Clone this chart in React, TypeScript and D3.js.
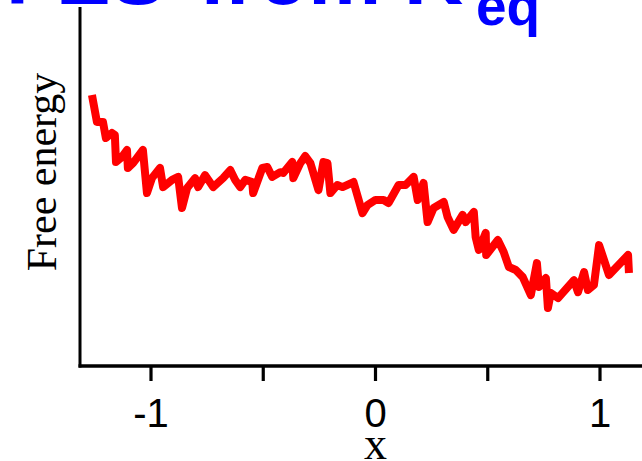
import React from "react";
import * as d3 from "d3";

const xs = [
  -1.263, -1.241, -1.214, -1.201, -1.174, -1.161, -1.156, -1.129, -1.107, -1.103,
  -1.08, -1.036, -1.018, -0.996, -0.96, -0.946, -0.906, -0.879, -0.862, -0.839,
  -0.804, -0.79, -0.759, -0.723, -0.679, -0.647, -0.625, -0.603, -0.58, -0.549,
  -0.545, -0.504, -0.482, -0.46, -0.424, -0.411, -0.371, -0.366, -0.335, -0.313,
  -0.29, -0.254, -0.232, -0.214, -0.201, -0.17, -0.147, -0.098, -0.058, -0.036,
  0.0, 0.036, 0.058, 0.103, 0.134, 0.17, 0.188, 0.214, 0.232, 0.259,
  0.304, 0.321, 0.348, 0.388, 0.402, 0.438, 0.446, 0.46, 0.491, 0.493,
  0.545, 0.571, 0.594, 0.625, 0.656, 0.692, 0.719, 0.728, 0.759, 0.768,
  0.781, 0.813, 0.884, 0.902, 0.929, 0.946, 0.973, 0.996, 1.04, 1.125, 1.129,
];
const energies = [
  9.06, 8.16, 8.16, 7.62, 7.79, 7.72, 6.82, 6.99, 7.22, 6.62,
  6.78, 7.22, 5.78, 6.28, 6.62, 5.98, 6.22, 6.32, 5.28, 5.95,
  6.28, 5.98, 6.38, 5.98, 6.28, 6.55, 6.22, 5.98, 6.22, 6.15,
  5.78, 6.62, 6.65, 6.32, 6.48, 6.45, 6.82, 6.28, 6.78, 7.02,
  6.78, 5.88, 6.82, 6.78, 5.78, 6.05, 5.98, 6.15, 5.11, 5.38,
  5.55, 5.55, 5.45, 6.05, 6.05, 6.32, 5.55, 6.12, 4.81, 5.28,
  5.48, 4.98, 4.55, 5.05, 4.81, 5.15, 4.31, 3.88, 4.45, 3.71,
  4.21, 3.81, 3.31, 3.21, 2.97, 2.37, 3.44, 2.64, 2.94, 1.94,
  2.44, 2.27, 2.87, 2.47, 3.14, 2.54, 2.71, 4.04, 3.04, 3.71, 3.11,
];
const majorTicks = [-1, 0, 1];
const minorTicks = [-0.5, 0.5];
const titleMain = "FES";
const titleRest = "from K";
const titleSub = "eq";
const xLabel = "x";
const yLabel = "Free energy";

const SANS = "'Liberation Sans', Arial, sans-serif";
const SERIF = "'Liberation Serif', 'Times New Roman', serif";

export default function App() {
  const W = 642, H = 461;
  const x = d3.scaleLinear().domain([-1, 1]).range([151, 600]);
  const y = d3.scaleLinear().domain([0, 12]).range([366, 7]);
  const data = xs.map((v, i) => [v, energies[i]] as [number, number]);
  const line = d3.line<[number, number]>().x((d) => x(d[0])).y((d) => y(d[1]));
  const axisX = 80;
  const axisY = 366;
  const ticks = [...majorTicks, ...minorTicks];
  return (
    <svg width={W} height={H} style={{ position: "absolute", left: 0, top: 0, background: "#fff" }}>
      <text fill="#0000FF" fontFamily={SANS} fontWeight="bold" fontSize={82} y={4}>
        <tspan x={6}>{titleMain}</tspan>
        <tspan x={199}>{titleRest}</tspan>
      </text>
      <text fill="#0000FF" fontFamily={SANS} fontWeight="bold" fontSize={55} x={476} y={25}>
        {titleSub}
      </text>
      <line x1={axisX} x2={axisX} y1={7} y2={axisY + 1.5} stroke="#000" strokeWidth={3} />
      <line x1={axisX - 1.5} x2={W} y1={axisY} y2={axisY} stroke="#000" strokeWidth={3.5} />
      {ticks.map((t) => (
        <line key={t} x1={x(t)} x2={x(t)} y1={axisY} y2={381} stroke="#000" strokeWidth={3.2} />
      ))}
      {majorTicks.map((t) => (
        <text key={t} x={x(t)} y={427} textAnchor="middle" fontFamily={SANS} fontSize={40} fill="#000">
          {t < 0 ? "-" + Math.abs(t) : String(t)}
        </text>
      ))}
      <text x={x(0)} y={459} textAnchor="middle" fontFamily={SERIF} fontSize={46} fill="#000">
        {xLabel}
      </text>
      <text transform={`translate(56,172) rotate(-90)`} textAnchor="middle" fontFamily={SERIF} fontSize={42} fill="#000">
        {yLabel}
      </text>
      <path d={line(data) || ""} fill="none" stroke="#FF0000" strokeWidth={8} strokeLinejoin="round" strokeLinecap="butt" />
    </svg>
  );
}
